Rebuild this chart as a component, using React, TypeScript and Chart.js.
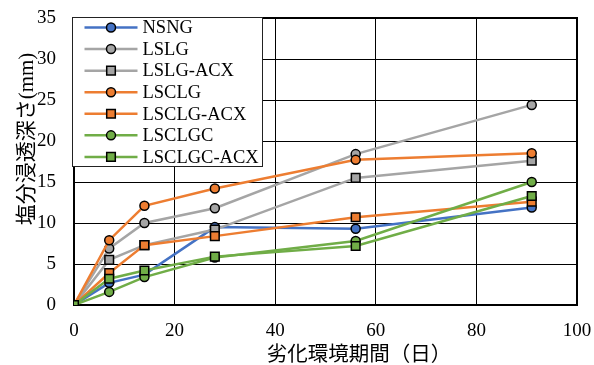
import React, { useEffect, useRef } from "react";
import { Chart, registerables } from "chart.js";

Chart.register(...registerables);

const days = [0, 7, 14, 28, 56, 91];
const seriesNames = ["NSNG", "LSLG", "LSLG-ACX", "LSCLG", "LSCLG-ACX", "LSCLGC", "LSCLGC-ACX"];
const NSNG = [0, 2.7, 3.7, 9.5, 9.3, 11.9];
const LSLG = [0, 6.9, 10.0, 11.8, 18.4, 24.4];
const LSLG_ACX = [0, 5.5, 7.3, 9.2, 15.5, 17.6];
const LSCLG = [0, 7.9, 12.1, 14.2, 17.7, 18.5];
const LSCLG_ACX = [0, 3.9, 7.3, 8.4, 10.7, 12.6];
const LSCLGC = [0, 1.6, 3.4, 5.8, 7.8, 15.0];
const LSCLGC_ACX = [0, 3.2, 4.2, 5.9, 7.2, 13.3];
const seriesValues = [NSNG, LSLG, LSLG_ACX, LSCLG, LSCLG_ACX, LSCLGC, LSCLGC_ACX];
const seriesColors = ["#4472C4", "#A5A5A5", "#A5A5A5", "#ED7D31", "#ED7D31", "#70AD47", "#70AD47"];
const seriesMarkers = ["circle", "circle", "rect", "circle", "rect", "circle", "rect"];
const xTitle = "劣化環境期間（日）";
const yTitle = "塩分浸透深さ(mm)";

const SERIF = "'Times New Roman', 'Liberation Serif', 'Noto Sans CJK JP'";

const drawMarker = (ctx: CanvasRenderingContext2D, style: string, x: number, y: number, color: string) => {
  ctx.save();
  ctx.fillStyle = color;
  ctx.strokeStyle = "#000";
  ctx.lineWidth = 1.5;
  ctx.beginPath();
  if (style === "rect") {
    const s = 4.3;
    ctx.rect(x - s, y - s, 2 * s, 2 * s);
  } else {
    ctx.arc(x, y, 4.5, 0, Math.PI * 2);
  }
  ctx.fill();
  ctx.stroke();
  ctx.restore();
};

const framePlugin = {
  id: "frame",
  beforeDatasetsDraw(chart: any) {
    const { ctx, chartArea: a } = chart;
    ctx.save();
    ctx.strokeStyle = "#000";
    ctx.lineWidth = 2;
    ctx.strokeRect(a.left, a.top, a.right - a.left, a.bottom - a.top);
    ctx.restore();
  },
  afterDraw(chart: any) {
    const { ctx, chartArea: a } = chart;
    ctx.save();
    // axis titles
    ctx.fillStyle = "#000";
    ctx.textAlign = "center";
    ctx.textBaseline = "middle";
    ctx.font = `20.5px ${SERIF}`;
    ctx.fillText(xTitle, a.left + 285, a.bottom + 51);
    ctx.save();
    ctx.translate(27, a.top + 121);
    ctx.rotate(-Math.PI / 2);
    ctx.font = `21px ${SERIF}`;
    ctx.fillText(yTitle, 0, 0);
    ctx.restore();

    // legend
    const bx = a.left - 1.5, by = a.top - 0.5, bw = 190, bh = 149;
    ctx.fillStyle = "#fff";
    ctx.fillRect(bx, by, bw, bh);
    ctx.strokeStyle = "#222";
    ctx.lineWidth = 1;
    ctx.strokeRect(bx, by, bw, bh);
    ctx.font = `18.5px ${SERIF}`;
    ctx.textAlign = "left";
    ctx.textBaseline = "middle";
    chart.data.datasets.forEach((ds: any, i: number) => {
      const y = by + 10 + i * 21.57;
      ctx.strokeStyle = ds.borderColor;
      ctx.lineWidth = 2.5;
      ctx.beginPath();
      ctx.moveTo(bx + 12, y);
      ctx.lineTo(bx + 65, y);
      ctx.stroke();
      drawMarker(ctx, ds.pointStyle, bx + 38.5, y, ds.backgroundColor);
      ctx.fillStyle = "#000";
      ctx.fillText(ds.label, bx + 70, y + 1);
    });
    ctx.restore();
  },
};

const zeroPad = (s: any) => {
  s.paddingTop = 0;
  s.paddingBottom = 0;
  s.paddingLeft = 0;
  s.paddingRight = 0;
};

export default function App() {
  const ref = useRef<HTMLCanvasElement | null>(null);
  useEffect(() => {
    if (!ref.current) return;
    const datasets = seriesNames.map((name, i) => ({
      label: name,
      data: days.map((d, j) => ({ x: d, y: seriesValues[i][j] })),
      borderColor: seriesColors[i],
      backgroundColor: seriesColors[i],
      pointStyle: seriesMarkers[i],
      pointRadius: seriesMarkers[i] === "rect" ? 6.1 : 4.5,
      pointBorderColor: "#000",
      pointBorderWidth: 1.5,
      borderWidth: 2.5,
      tension: 0,
      order: seriesNames.length - i,
    }));
    const chart = new Chart(ref.current, {
      type: "line",
      data: { datasets },
      plugins: [framePlugin],
      options: {
        animation: false,
        responsive: false,
        layout: { padding: { left: 0, right: 17, top: 18, bottom: 0 } },
        plugins: { legend: { display: false }, tooltip: { enabled: false } },
        scales: {
          x: {
            type: "linear",
            min: 0,
            max: 100,
            ticks: { stepSize: 20, color: "#000", font: { family: SERIF, size: 19 }, padding: 15, maxRotation: 0 },
            grid: { color: "#000", lineWidth: 1, drawTicks: false },
            border: { display: true, color: "#000", width: 2 },
            afterFit: (s: any) => { s.height = 60; zeroPad(s); },
          },
          y: {
            type: "linear",
            min: 0,
            max: 35,
            ticks: { stepSize: 5, color: "#000", font: { family: SERIF, size: 19 }, padding: 18 },
            grid: { color: "#000", lineWidth: 1, drawTicks: false },
            border: { display: true, color: "#000", width: 2 },
            afterFit: (s: any) => { s.width = 74; zeroPad(s); },
          },
        },
      },
    } as any);
    return () => chart.destroy();
  }, []);
  return (
    <div style={{ position: "fixed", left: 0, top: 0, width: 594, height: 365, background: "#fff" }}>
      <canvas ref={ref} width={594} height={365} style={{ width: 594, height: 365 }} />
    </div>
  );
}
